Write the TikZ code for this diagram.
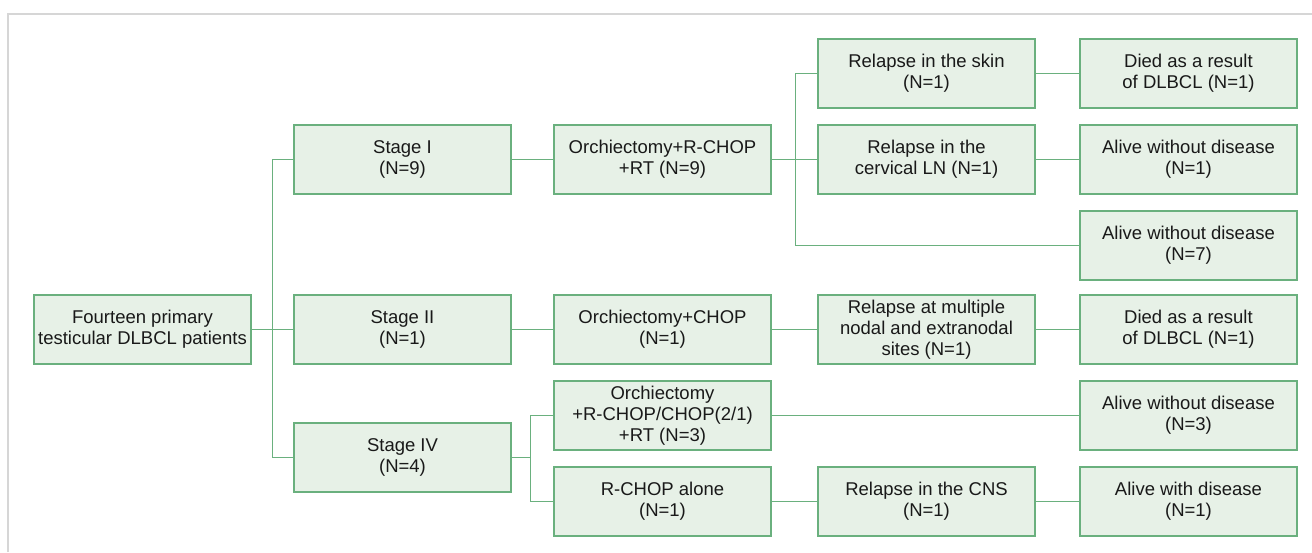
\documentclass[tikz,border=0pt]{standalone}
\usepackage{fontspec}
\setmainfont{Liberation Sans}
\definecolor{boxfill}{HTML}{E7F1E7}
\definecolor{boxedge}{HTML}{6AB07E}
\definecolor{framegray}{HTML}{D6D6D6}
\begin{document}
\begin{tikzpicture}[x=1pt, y=1pt, node distance=86pt]

    \tikzstyle{block} = [rectangle, draw=boxedge, fill=boxfill, line width=1.2pt, minimum width=217pt, minimum height=69pt, align=center, inner sep=2pt, text=black!90, font=\fontsize{18.5}{21}\selectfont]
    \tikzstyle{line} = [draw=boxedge, line width=1.2pt]

    \useasboundingbox (0,0) rectangle (1312,552);
    \draw [framegray, line width=2pt] (8,0) -- (8,538) -- (1312,538);

    \node (root) [block] at (142.5,222.5) {Fourteen primary\\ testicular DLBCL patients};

    \node (stageii) [block, right of=root, node distance=260pt] {Stage II\\ (N=1)};
    \node (stagei) [block, above of=stageii, node distance=170pt] {Stage I\\ (N=9)};
    \node (stageiv) [block, below of=stageii, node distance=128pt] {Stage IV\\ (N=4)};

    \node (orchchop) [block, right of=stageii, node distance=260pt] {Orchiectomy+CHOP\\ (N=1)};
    \node (orchrchop) [block, above of=orchchop, node distance=170pt] {Orchiectomy+R-CHOP\\ +RT (N=9)};
    \node (orchmix) [block, below of=orchchop] {Orchiectomy\\ +R-CHOP/CHOP(2/1)\\ +RT (N=3)};
    \node (rchop) [block, below of=orchmix] {R-CHOP alone\\ (N=1)};

    \node (relcerv) [block, right of=orchrchop, node distance=264pt] {Relapse in the\\ cervical LN (N=1)};
    \node (relskin) [block, above of=relcerv] {Relapse in the skin\\ (N=1)};
    \node (relmult) [block, right of=orchchop, node distance=264pt] {Relapse at multiple\\ nodal and extranodal\\ sites (N=1)};
    \node (relcns) [block, right of=rchop, node distance=264pt] {Relapse in the CNS\\ (N=1)};

    \node (died1) [block, right of=relskin, node distance=262pt] {Died as a result\\ of DLBCL (N=1)};
    \node (alive1) [block, right of=relcerv, node distance=262pt] {Alive without disease\\ (N=1)};
    \node (alive7) [block, below of=alive1] {Alive without disease\\ (N=7)};
    \node (died2) [block, right of=relmult, node distance=262pt] {Died as a result\\ of DLBCL (N=1)};
    \node (alive3) [block, below of=died2] {Alive without disease\\ (N=3)};
    \node (alivewith) [block, right of=relcns, node distance=262pt] {Alive with disease\\ (N=1)};

    % root to stages
    \draw [line] (root.east) -- +(21,0) |- (stagei.west);
    \draw [line] (root.east) -- (stageii.west);
    \draw [line] (root.east) -- +(21,0) |- (stageiv.west);

    \draw [line] (stagei) -- (orchrchop);
    \draw [line] (stageii) -- (orchchop);
    \draw [line] (stageiv.east) -- +(19,0) |- (orchmix.west);
    \draw [line] (stageiv.east) -- +(19,0) |- (rchop.west);

    % stage I branches
    \draw [line] (orchrchop.east) -- +(24,0) |- (relskin.west);
    \draw [line] (orchrchop) -- (relcerv);
    \draw [line] (orchrchop.east) -- +(24,0) |- (alive7.west);

    \draw [line] (relskin) -- (died1);
    \draw [line] (relcerv) -- (alive1);
    \draw [line] (orchchop) -- (relmult);
    \draw [line] (relmult) -- (died2);
    \draw [line] (orchmix) -- (alive3);
    \draw [line] (rchop) -- (relcns);
    \draw [line] (relcns) -- (alivewith);

\end{tikzpicture}
\end{document}
